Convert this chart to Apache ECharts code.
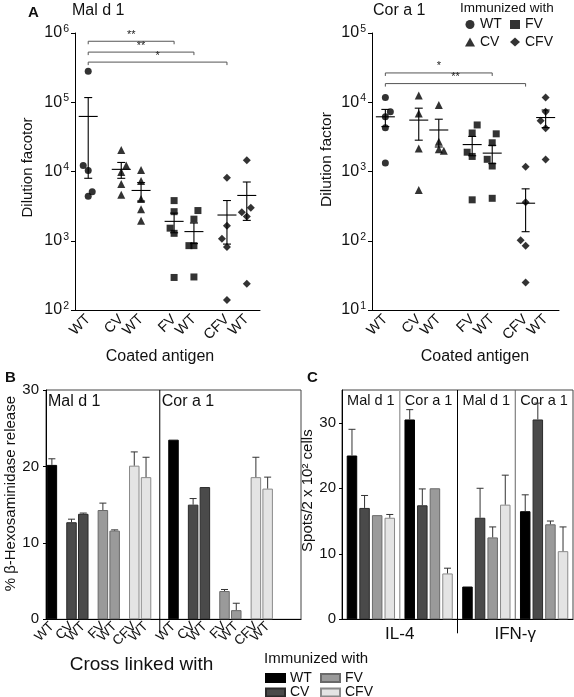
<!DOCTYPE html>
<html><head><meta charset="utf-8">
<script src="https://cdn.jsdelivr.net/npm/echarts@6/dist/echarts.min.js"></script>
<style>html,body{margin:0;padding:0;background:#fff}#c{width:574px;height:697px}</style>
</head><body><div id="c"></div>
<script>
// ================= DATA =================
const groups = ['WT', 'CV', 'FV', 'CFV'];               // immunized with
const coatedLabels = ['WT', 'CV', 'WT', 'FV', 'WT', 'CFV', 'WT'];   // coated / cross-linked antigen
const immunizedOf = ['WT', 'CV', 'CV', 'FV', 'FV', 'CFV', 'CFV'];

// Panel A: dilution factors per column
const malDilution = [
  [280000, 12200, 10300, 4400, 5100],
  [20500, 12200, 9800, 6600, 4600],
  [10500, 7300, 4000, 2860, 1950],
  [3800, 2630, 1520, 1280, 295],
  [2730, 2050, 850, 850, 300],
  [8100, 1640, 1070, 810, 140],
  [14500, 2570, 2240, 3000, 240]
];
const corDilution = [
  [11700, 7300, 6200, 4300, 1330],
  [12500, 6900, 2150, 540],
  [9100, 2700, 2100, 2000],
  [4700, 3600, 1900, 1650, 390],
  [3500, 2600, 1500, 1200, 410],
  [1170, 360, 102, 85, 25],
  [11700, 7300, 5400, 4200, 1490]
];
// significance brackets: [fromColumn, toColumn, label]
const malBrackets = [[0, 3, '**'], [0, 4, '**'], [0, 5, '*']];
const corBrackets = [[0, 4, '*'], [0, 5, '**']];

// Panel B: % beta-hexosaminidase release (bar top, error-bar top)
const bMal = [20.2, 12.7, 13.8, 14.3, 11.6, 20.1, 18.6];
const bMalErr = [21.0, 13.1, 13.9, 15.2, 11.7, 21.9, 21.2];
const bCor = [23.5, 15.0, 17.3, 3.7, 1.2, 18.6, 17.1];
const bCorErr = [null, 15.8, null, 3.9, 2.1, 21.2, 18.6];
const bSections = ['Mal d 1', 'Cor a 1'];

// Panel C: spots / 2x10^2 cells
const cCytokines = ['IL-4', 'IFN-\u03b3'];
const cSections = ['Mal d 1', 'Cor a 1', 'Mal d 1', 'Cor a 1'];
const cValues = {
  WT: [25.0, 30.5, 5.0, 16.5],
  CV: [17.0, 17.4, 15.5, 30.5],
  FV: [15.9, 20.0, 12.5, 14.5],
  CFV: [15.5, 7.0, 17.5, 10.4]
};
const cErr = {
  WT: [29.0, 32.0, null, 19.0],
  CV: [18.9, 19.9, 20.0, 33.0],
  FV: [null, null, 14.1, 15.0],
  CFV: [16.0, 7.8, 22.0, 14.1]
};

// ================= STYLE / LAYOUT =================
const FONT = "'Liberation Sans', Arial, Helvetica, sans-serif";
const TXT = '#111';
const FILL = {WT: '#000000', CV: '#4a4a4a', FV: '#9a9a9a', CFV: '#e4e4e4'};
const EDGE = {WT: '#000000', CV: '#2a2a2a', FV: '#6a6a6a', CFV: '#8a8a8a'};
const SYMBOL = {WT: 'circle', CV: 'triangle', FV: 'rect', CFV: 'diamond'};
const SYMSIZE = {WT: 7, CV: 8, FV: 7, CFV: 8};
// horizontal jitter of individual points (px)
const malJitter = [[0,-5,0,0,4],[0,5,0,0,0],[0,0,0,0,0],[0,0,-4,0,0],[4,0,-5,0,0],[0,0,-5,0,0],[0,-5,0,4,0]];
const corJitter = [[0,5,0,0,0],[0,0,0,0],[0,0,0,5],[5,0,-5,0,0],[4,0,-5,0,0],[0,0,-5,0,0],[0,0,-5,0,0]];
const bracketLevelsMal = [7.6e5, 5.3e5, 3.8e5];
const bracketLevelsCor = [2.65e4, 1.86e4];

function columnSlots(start, n) {
  const s = [start];
  for (let i = 1; i < n; i++) s.push(s[i - 1] + (i % 2 === 1 ? 5 : 3));
  return s;
}
const A_SLOTS = 29;
const aCols = columnSlots(2, 7);
const B_SLOTS = 65;
const bMalCols = columnSlots(1, 7);
const bCorCols = columnSlots(32, 7);
const slotNames = n => Array.from({length: n}, (_, i) => 's' + i);
const labelAt = (cols, labels) => (v, idx) => { const k = cols.indexOf(idx); return k >= 0 ? labels[k] : ''; };

const BAR_W = 10.5;
const C_PITCH = BAR_W * 1.2;

function meanSem(arr) {
  const n = arr.length, m = arr.reduce((a, b) => a + b, 0) / n;
  const sd = Math.sqrt(arr.reduce((a, b) => a + (b - m) * (b - m), 0) / (n - 1));
  return [m, sd / Math.sqrt(n)];
}

function scatterSeries(points, jitter, xi, yi) {
  return groups.map(g => ({
    type: 'scatter', name: 'A-' + g, xAxisIndex: xi, yAxisIndex: yi,
    symbol: SYMBOL[g], symbolSize: SYMSIZE[g], itemStyle: {color: '#000'}, silent: true, z: 3,
    data: aCols.flatMap((c, k) => immunizedOf[k] !== g ? [] :
      points[k].map((v, j) => ({value: [c, v], symbolOffset: [jitter[k][j], 0]})))
  }));
}
function meanSeries(points, xi, yi, yMin) {
  return {
    type: 'custom', xAxisIndex: xi, yAxisIndex: yi, silent: true, z: 4, clip: false,
    data: aCols.map((c, k) => { const [m, s] = meanSem(points[k]); return [c, m, Math.max(m - s, yMin), m + s]; }),
    encode: {x: 0, y: 1},
    renderItem: (p, api) => {
      const x = api.value(0);
      const pm = api.coord([x, api.value(1)]), pl = api.coord([x, api.value(2)]), ph = api.coord([x, api.value(3)]);
      const st = {stroke: '#000', lineWidth: 1.1};
      return {type: 'group', children: [
        {type: 'line', shape: {x1: pm[0] - 9.5, y1: pm[1], x2: pm[0] + 9.5, y2: pm[1]}, style: st},
        {type: 'line', shape: {x1: pm[0], y1: pl[1], x2: pm[0], y2: ph[1]}, style: st},
        {type: 'line', shape: {x1: pm[0] - 4, y1: pl[1], x2: pm[0] + 4, y2: pl[1]}, style: st},
        {type: 'line', shape: {x1: pm[0] - 4, y1: ph[1], x2: pm[0] + 4, y2: ph[1]}, style: st}
      ]};
    }
  };
}
function bracketSeries(brackets, levels, xi, yi) {
  return {
    type: 'custom', xAxisIndex: xi, yAxisIndex: yi, silent: true, z: 4, clip: false,
    data: brackets.map((b, i) => [aCols[b[0]], aCols[b[1]], levels[i]]),
    encode: {x: [0, 1], y: 2},
    renderItem: (p, api) => {
      const a = api.coord([api.value(0), api.value(2)]), b = api.coord([api.value(1), api.value(2)]);
      const lab = brackets[p.dataIndex][2];
      return {type: 'group', children: [
        {type: 'polyline', shape: {points: [[a[0], a[1] + 3], a, b, [b[0], b[1] + 3]]}, style: {stroke: '#555', lineWidth: 1, fill: null}},
        {type: 'text', x: (a[0] + b[0]) / 2, y: a[1] - 1, style: {text: lab, fontSize: 11, fontFamily: FONT, fill: '#222', align: 'center', verticalAlign: 'bottom'}}
      ]};
    }
  };
}
function errRender(offset) {
  return (p, api) => {
    const x = api.value(0);
    const a = api.coord([x, api.value(1)]), b = api.coord([x, api.value(2)]);
    const cx = a[0] + offset;
    const st = {stroke: '#333', lineWidth: 1};
    return {type: 'group', children: [
      {type: 'line', shape: {x1: cx, y1: a[1], x2: cx, y2: b[1]}, style: st},
      {type: 'line', shape: {x1: cx - 3.5, y1: b[1], x2: cx + 3.5, y2: b[1]}, style: st}
    ]};
  };
}

// B bar series (overlapping slots)
const bSeries = groups.map(g => {
  const d = new Array(B_SLOTS).fill('-');
  coatedLabels.forEach((_, k) => {
    if (immunizedOf[k] === g) { d[bMalCols[k]] = bMal[k]; d[bCorCols[k]] = bCor[k]; }
  });
  return {type: 'bar', name: g, xAxisIndex: 2, yAxisIndex: 2, barWidth: BAR_W, barGap: '-100%',
    itemStyle: {color: FILL[g], borderColor: EDGE[g], borderWidth: 1}, silent: true, data: d};
});
const bErrData = [];
coatedLabels.forEach((_, k) => {
  if (bMalErr[k] != null) bErrData.push([bMalCols[k], bMal[k], bMalErr[k]]);
  if (bCorErr[k] != null) bErrData.push([bCorCols[k], bCor[k], bCorErr[k]]);
});
// C bar series (grouped)
const cSeries = groups.map(g => ({
  type: 'bar', name: g, xAxisIndex: 4, yAxisIndex: 3, barWidth: BAR_W, barGap: '20%',
  itemStyle: {color: FILL[g], borderColor: EDGE[g], borderWidth: 1}, silent: true, data: cValues[g]
}));
const cErrSeries = groups.map((g, gi) => ({
  type: 'custom', xAxisIndex: 4, yAxisIndex: 3, silent: true, z: 5, clip: false,
  data: cValues[g].map((v, i) => [i, v, cErr[g][i]]).filter(r => r[2] != null),
  encode: {x: 0, y: 2},
  renderItem: errRender((gi - 1.5) * C_PITCH)
}));

const txt = (size, extra) => Object.assign({fontFamily: FONT, color: TXT, fontSize: size}, extra || {});
const logLabel = {
  formatter: v => '{b|10}{s|' + Math.round(Math.log10(v)) + '}',
  margin: 6,
  rich: {b: txt(16), s: txt(10.5, {padding: [0, 0, 8, 1]})}
};
const blackLine = {show: true, lineStyle: {color: '#000', width: 1}};
const hidden = {axisLine: {show: false}, axisTick: {show: false}, splitLine: {show: false}};

const option = {
  animation: false,
  backgroundColor: '#fff',
  textStyle: {fontFamily: FONT},
  title: [
    {text: 'A', left: 28, top: 5, padding: 0, textStyle: txt(15, {fontWeight: 'bold'})},
    {text: 'Mal d 1', left: 72, top: 3, padding: 0, textStyle: txt(16, {fontWeight: 'normal'})},
    {text: 'Cor a 1', left: 373, top: 3, padding: 0, textStyle: txt(16, {fontWeight: 'normal'})},
    {text: 'Immunized with', left: 460, top: 1, padding: 0, textStyle: txt(13.5, {fontWeight: 'normal'})},
    {text: 'B', left: 5, top: 370, padding: 0, textStyle: txt(15, {fontWeight: 'bold'})},
    {text: 'C', left: 307, top: 370, padding: 0, textStyle: txt(15, {fontWeight: 'bold'})},
    {text: 'Immunized with', left: 264, top: 651, padding: 0, textStyle: txt(15, {fontWeight: 'normal'})}
  ],
  legend: [
    {data: ['A-WT', 'A-CV'], orient: 'vertical', left: 465, top: 17.5, height: 40, itemWidth: 10, itemHeight: 9, itemGap: 3.5,
     padding: 0, selectedMode: false, formatter: n => n.replace('A-', ''), textStyle: txt(14, {lineHeight: 14})},
    {data: ['A-FV', 'A-CFV'], orient: 'vertical', left: 510, top: 17.5, height: 40, itemWidth: 10, itemHeight: 9, itemGap: 3.5,
     padding: 0, selectedMode: false, formatter: n => n.replace('A-', ''), textStyle: txt(14, {lineHeight: 14})},
    {data: ['WT', 'CV'], orient: 'vertical', left: 265, top: 671, height: 40, itemWidth: 19, itemHeight: 8, itemGap: 0.5, icon: 'rect',
     padding: 0, selectedMode: false, textStyle: txt(14, {lineHeight: 13})},
    {data: ['FV', 'CFV'], orient: 'vertical', left: 320, top: 671, height: 40, itemWidth: 19, itemHeight: 8, itemGap: 0.5, icon: 'rect',
     padding: 0, selectedMode: false, textStyle: txt(14, {lineHeight: 13})}
  ],
  grid: [
    {left: 75, top: 33, width: 185, height: 277},
    {left: 372, top: 33, width: 187, height: 277},
    {left: 46, top: 390, width: 255, height: 229.3, show: true, borderColor: '#444', borderWidth: 1},
    {left: 342, top: 390, width: 231, height: 229.3, show: true, borderColor: '#444', borderWidth: 1}
  ],
  xAxis: [
    {type: 'category', gridIndex: 0, data: slotNames(A_SLOTS), boundaryGap: false,
     axisLine: blackLine, axisTick: {show: false}, splitLine: {show: false},
     axisLabel: {interval: 0, rotate: 45, margin: 7, formatter: labelAt(aCols, coatedLabels), ...txt(14.5)},
     name: 'Coated antigen', nameLocation: 'middle', nameGap: 39, nameTextStyle: txt(16, {padding: [0, 15, 0, 0]})},
    {type: 'category', gridIndex: 1, data: slotNames(A_SLOTS), boundaryGap: false,
     axisLine: blackLine, axisTick: {show: false}, splitLine: {show: false},
     axisLabel: {interval: 0, rotate: 45, margin: 7, formatter: labelAt(aCols, coatedLabels), ...txt(14.5)},
     name: 'Coated antigen', nameLocation: 'middle', nameGap: 39, nameTextStyle: txt(16, {padding: [0, 0, 0, 19]})},
    {type: 'category', gridIndex: 2, data: slotNames(B_SLOTS), position: 'bottom',
     axisLine: blackLine, axisTick: {show: false}, splitLine: {show: false},
     axisLabel: {interval: 0, rotate: 45, margin: 5,
       formatter: labelAt(bMalCols.concat(bCorCols), coatedLabels.concat(coatedLabels)), ...txt(13.5)},
     name: 'Cross linked with', nameLocation: 'middle', nameGap: 36, nameTextStyle: txt(19, {padding: [0, 64, 0, 0]})},
    {type: 'category', gridIndex: 2, data: slotNames(B_SLOTS), position: 'top', ...hidden,
     axisLabel: {interval: 0, inside: true, margin: 4, align: 'left',
       formatter: labelAt([0, bCorCols[0] - 3], bSections), ...txt(16)}},
    {type: 'category', gridIndex: 3, data: cSections.map((s, i) => s + '#' + i), position: 'bottom',
     axisLine: blackLine, axisTick: {show: false}, splitLine: {show: false}, axisLabel: {show: false}},
    {type: 'category', gridIndex: 3, data: cCytokines, position: 'bottom', ...hidden,
     axisLabel: {interval: 0, margin: 7, ...txt(17)}},
    {type: 'category', gridIndex: 3, data: cSections.map((s, i) => s + '#' + i), position: 'top', ...hidden,
     axisLabel: {interval: 0, inside: true, margin: 3, formatter: (v, i) => cSections[i], ...txt(14.5)}}
  ],
  yAxis: [
    {type: 'log', logBase: 10, gridIndex: 0, min: 100, max: 1e6,
     axisLine: blackLine, axisTick: {show: true, length: 4, lineStyle: {color: '#000'}}, splitLine: {show: false}, minorTick: {show: false},
     axisLabel: logLabel,
     name: 'Dilution facotor', nameLocation: 'middle', nameGap: 40, nameTextStyle: txt(15, {padding: [0, 0, 0, 8]})},
    {type: 'log', logBase: 10, gridIndex: 1, min: 10, max: 1e5,
     axisLine: blackLine, axisTick: {show: true, length: 4, lineStyle: {color: '#000'}}, splitLine: {show: false},
     axisLabel: logLabel,
     name: 'Dilution factor', nameLocation: 'middle', nameGap: 37, nameTextStyle: txt(15.5, {padding: [0, 0, 0, 24]})},
    {type: 'value', gridIndex: 2, min: 0, max: 30, interval: 10,
     axisLine: blackLine, axisTick: {show: true, length: 3, lineStyle: {color: '#000'}}, splitLine: {show: false},
     axisLabel: {margin: 7, ...txt(15)},
     name: '% \u03b2-Hexosaminidase release', nameLocation: 'middle', nameGap: 27, nameTextStyle: txt(15, {padding: [0, 0, 0, 22]})},
    {type: 'value', gridIndex: 3, min: 0, max: 35, interval: 10,
     axisLine: blackLine, axisTick: {show: true, length: 3, lineStyle: {color: '#000'}}, splitLine: {show: false},
     axisLabel: {margin: 6, showMaxLabel: false, ...txt(15)},
     name: 'Spots/2 x 10\u00b2 cells', nameLocation: 'middle', nameGap: 26, nameTextStyle: txt(15, {padding: [0, 0, 0, 28]})}
  ],
  series: [
    ...scatterSeries(malDilution, malJitter, 0, 0),
    meanSeries(malDilution, 0, 0, 100),
    bracketSeries(malBrackets, bracketLevelsMal, 0, 0),
    ...scatterSeries(corDilution, corJitter, 1, 1),
    meanSeries(corDilution, 1, 1, 10),
    bracketSeries(corBrackets, bracketLevelsCor, 1, 1),
    ...bSeries,
    {type: 'custom', xAxisIndex: 2, yAxisIndex: 2, silent: true, z: 5, clip: false, data: bErrData,
     encode: {x: 0, y: 2}, renderItem: errRender(0)},
    ...cSeries,
    ...cErrSeries
  ]
};

const chart = echarts.init(document.getElementById('c'), null, {renderer: 'canvas'});
chart.setOption(option);

// section dividers in panels B and C (category boundaries)
const bx = i => chart.convertToPixel({xAxisIndex: 2}, i);
const cx = i => chart.convertToPixel({xAxisIndex: 4}, i);
const bTop = chart.convertToPixel({yAxisIndex: 2}, 30), bBot = chart.convertToPixel({yAxisIndex: 2}, 0);
const cTop = chart.convertToPixel({yAxisIndex: 3}, 35), cBot = chart.convertToPixel({yAxisIndex: 3}, 0);
const vline = (x, y1, y2, color, w) => ({type: 'line', silent: true, z: 10,
  shape: {x1: x, y1: y1, x2: x, y2: y2}, style: {stroke: color, lineWidth: w}});
const bDiv = (bx(bCorCols[0] - 4) + bx(bCorCols[0] - 3)) / 2;
chart.setOption({graphic: [
  vline(bDiv, bTop, bBot + 14, '#000', 1),
  vline((cx(0) + cx(1)) / 2, cTop, cBot, '#a8a8a8', 1.5),
  vline((cx(1) + cx(2)) / 2, cTop, cBot + 14, '#000', 1),
  vline((cx(2) + cx(3)) / 2, cTop, cBot, '#666', 1)
]});
</script></body></html>
